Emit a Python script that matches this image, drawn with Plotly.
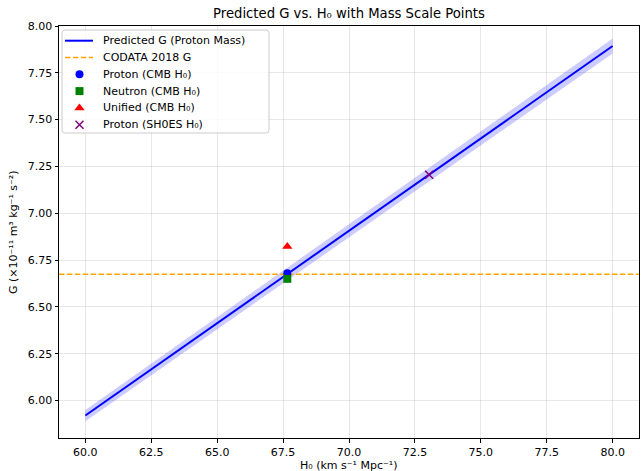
import plotly.graph_objects as go

# Data
h0_line = [60.0, 65.0, 70.0, 75.0, 80.0]
g_line = [5.920, 6.413, 6.906, 7.400, 7.893]
g_band_lo = [5.890, 6.381, 6.871, 7.363, 7.853]
g_band_hi = [5.950, 6.445, 6.941, 7.437, 7.933]

codata_g = 6.6743
h0_cmb = 67.66
h0_shoes = 73.04
g_proton_cmb = 6.68
g_neutron_cmb = 6.65
g_unified_cmb = 6.823
g_proton_shoes = 7.206

x_ticks = [60.0, 62.5, 65.0, 67.5, 70.0, 72.5, 75.0, 77.5, 80.0]
y_ticks = [6.00, 6.25, 6.50, 6.75, 7.00, 7.25, 7.50, 7.75, 8.00]

legend_labels = ["Predicted G (Proton Mass)", "CODATA 2018 G", "Proton (CMB H₀)",
                 "Neutron (CMB H₀)", "Unified (CMB H₀)", "Proton (SH0ES H₀)"]

FONT = "DejaVu Sans"
W, H = 641, 471
ML, MR, MT, MB = 59, 2, 26, 33
PW, PH = W - ML - MR, H - MT - MB
XR = [59, 81]
YR = [5.8, 8.0]
DASH = "5.5px,2.4px"


def px2x(p):
    return XR[0] + p * (XR[1] - XR[0]) / PW


def py2y(p):
    return YR[1] - p * (YR[1] - YR[0]) / PH


fig = go.Figure()

# uncertainty band
fig.add_trace(go.Scatter(x=h0_line, y=g_band_hi, mode="lines", line=dict(width=0),
                         showlegend=False, hoverinfo="skip"))
fig.add_trace(go.Scatter(x=h0_line, y=g_band_lo, mode="lines", line=dict(width=0),
                         fill="tonexty", fillcolor="rgba(0,0,255,0.2)",
                         showlegend=False, hoverinfo="skip"))

fig.add_trace(go.Scatter(x=h0_line, y=g_line, mode="lines",
                         line=dict(color="blue", width=2), showlegend=False))
fig.add_trace(go.Scatter(x=XR, y=[codata_g, codata_g], mode="lines",
                         line=dict(color="orange", width=1.5, dash=DASH), showlegend=False))

markers = [
    dict(symbol="circle", color="blue", size=8),
    dict(symbol="square", color="green", size=8),
    dict(symbol="triangle-up", color="red", size=9),
    dict(symbol="x-thin", size=8, line=dict(color="purple", width=1.5), color="purple"),
]
pts_x = [h0_cmb, h0_cmb, h0_cmb, h0_shoes]
pts_y = [g_proton_cmb, g_neutron_cmb, g_unified_cmb, g_proton_shoes]
for px, py, mk, nm in zip(pts_x, pts_y, markers, legend_labels[2:]):
    fig.add_trace(go.Scatter(x=[px], y=[py], mode="markers", marker=mk,
                             name=nm, showlegend=False))

# --- manual legend (pixel offsets inside the plot area, y downward) ---
lx0, lx1, ly0, ly1 = 3, 210, 4, 107
row_y = [14.7, 31.5, 48.3, 65.1, 81.9, 98.7]
r = 3
legend_path = (
    f"M{px2x(lx0 + r)},{py2y(ly0)} L{px2x(lx1 - r)},{py2y(ly0)} "
    f"Q{px2x(lx1)},{py2y(ly0)} {px2x(lx1)},{py2y(ly0 + r)} "
    f"L{px2x(lx1)},{py2y(ly1 - r)} Q{px2x(lx1)},{py2y(ly1)} {px2x(lx1 - r)},{py2y(ly1)} "
    f"L{px2x(lx0 + r)},{py2y(ly1)} Q{px2x(lx0)},{py2y(ly1)} {px2x(lx0)},{py2y(ly1 - r)} "
    f"L{px2x(lx0)},{py2y(ly0 + r)} Q{px2x(lx0)},{py2y(ly0)} {px2x(lx0 + r)},{py2y(ly0)} Z")
shapes = [
    dict(type="path", path=legend_path, xref="x", yref="y",
         fillcolor="rgba(255,255,255,0.8)", line=dict(color="#cccccc", width=1), layer="between"),
    dict(type="line", xref="x", yref="y", x0=px2x(6), x1=px2x(34),
         y0=py2y(row_y[0]), y1=py2y(row_y[0]),
         line=dict(color="blue", width=2), layer="above"),
    dict(type="line", xref="x", yref="y", x0=px2x(6), x1=px2x(34),
         y0=py2y(row_y[1]), y1=py2y(row_y[1]),
         line=dict(color="orange", width=1.5, dash=DASH), layer="above"),
]
for i, mk in enumerate(markers):
    fig.add_trace(go.Scatter(x=[px2x(20.5)], y=[py2y(row_y[i + 2])], mode="markers", marker=mk,
                             showlegend=False, hoverinfo="skip"))

annotations = [
    dict(text=t, xref="x", yref="y", x=px2x(41.5), y=py2y(row_y[i]),
         xanchor="left", yanchor="middle",
         showarrow=False, font=dict(family=FONT, size=11, color="black"))
    for i, t in enumerate(legend_labels)
]
annotations += [
    dict(text="H₀ (km s⁻¹ Mpc⁻¹)", xref="paper", yref="paper",
         x=0.5, y=-(465 - (H - MB)) / PH, xanchor="center", yanchor="middle",
         showarrow=False, font=dict(family=FONT, size=11, color="black")),
    dict(text="G (×10⁻¹¹ m³ kg⁻¹ s⁻²)", xref="paper", yref="paper",
         x=-(ML - 13) / PW, y=0.5, xanchor="center", yanchor="middle",
         textangle=-90, showarrow=False,
         font=dict(family=FONT, size=11, color="black")),
]

axis_common = dict(showline=True, linecolor="black", linewidth=1, mirror=True,
                   ticks="outside", ticklen=3.5, tickcolor="black",
                   showgrid=True, gridcolor="rgba(176,176,176,0.3)", gridwidth=1,
                   zeroline=False, automargin=False,
                   tickfont=dict(family=FONT, size=11, color="black"))

fig.update_layout(
    width=W, height=H,
    margin=dict(l=ML, r=MR, t=MT, b=MB, autoexpand=False),
    paper_bgcolor="white", plot_bgcolor="white",
    font=dict(family=FONT, color="black"),
    title=dict(text="Predicted G vs. H₀ with Mass Scale Points",
               xref="paper", x=0.5, xanchor="center",
               yref="container", y=1 - 13 / H, yanchor="middle",
               font=dict(family=FONT, size=13.2, color="black")),
    xaxis=dict(range=XR, tickvals=x_ticks,
               ticktext=[f"{v:.1f}" for v in x_ticks], **axis_common),
    yaxis=dict(range=YR, tickvals=y_ticks,
               ticktext=[f"{v:.2f}" for v in y_ticks], **axis_common),
    showlegend=False,
    hovermode=False,
    shapes=shapes,
    annotations=annotations,
)

fig.write_html("out.html", config={"displayModeBar": False},
               post_script="document.body.style.margin='0';document.body.style.overflow='hidden';")
